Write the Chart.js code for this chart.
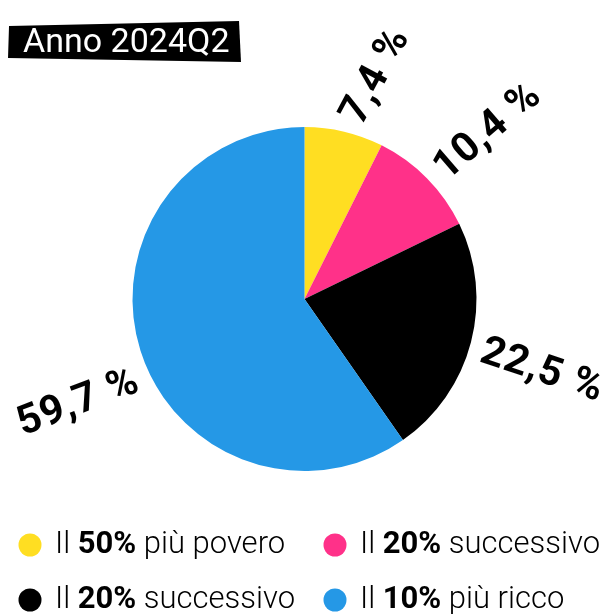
<!DOCTYPE html>
<html>
<head>
<meta charset="utf-8">
<script src="https://cdn.jsdelivr.net/npm/chart.js@4"></script>
<style>
    html, body { margin: 0; padding: 0; background: #ffffff; }
    canvas { display: block; }
</style>
</head>
<body>
<canvas id="chart" width="608" height="616"></canvas>
<script>
// data
const titleText = "Anno 2024Q2";
const shares = [7.4, 10.4, 22.5, 59.7];
const legendPrefix = ["Il", "Il", "Il", "Il"];
const legendBold = ["50%", "20%", "20%", "10%"];
const legendRest = ["più povero", "successivo", "successivo", "più ricco"];
const sliceColors = ["#ffde22", "#ff3189", "#000000", "#2598e6"];

const fontName = "Roboto";
const deg = Math.PI / 180;

// title box + rotated value labels + custom legend
const decorPlugin = {
    id: "decor",
    afterDraw(chart) {
        const c = chart.ctx;
        const meta = chart.getDatasetMeta(0);

        // title in black, slightly skewed box
        c.save();
        c.fillStyle = "#000000";
        c.beginPath();
        c.moveTo(9, 26);
        c.lineTo(239, 21);
        c.lineTo(241, 62);
        c.lineTo(8, 58);
        c.closePath();
        c.fill();
        c.fillStyle = "#ffffff";
        c.font = `400 34px ${fontName}`;
        c.textBaseline = "middle";
        c.textAlign = "left";
        c.fillText(titleText, 23, 43);
        c.restore();

        // value labels, along the radius
        meta.data.forEach((arc, i) => {
            const p = arc.getProps(["x", "y", "startAngle", "endAngle", "outerRadius"], true);
            const mid = (p.startAngle + p.endAngle) / 2;
            const r = p.outerRadius + 13;
            const ax = p.x + Math.cos(mid) * r;
            const ay = p.y + Math.sin(mid) * r;
            let rot, align, dy;
            if (Math.cos(mid) < 0) {
                rot = mid - Math.PI - 3.5 * deg;
                align = "right";
                dy = 28;
            } else {
                rot = mid + 4 * deg;
                align = "left";
                dy = 6;
            }
            while (rot > Math.PI) rot -= 2 * Math.PI;
            while (rot < -Math.PI) rot += 2 * Math.PI;
            // keep near-vertical labels readable
            rot = Math.max(-62 * deg, Math.min(62 * deg, rot));

            c.save();
            c.translate(ax, ay);
            c.rotate(rot);
            c.fillStyle = "#000000";
            c.font = `700 41px ${fontName}`;
            c.letterSpacing = "1px";
            c.textAlign = align;
            c.textBaseline = "middle";
            c.fillText(shares[i].toFixed(1).replace(".", ",") + " %", 0, dy);
            c.restore();
        });

        // legend, two columns
        const colX = [30, 335];
        const rowY = [545, 600];
        shares.forEach((v, i) => {
            const x = colX[i % 2];
            const y = rowY[Math.floor(i / 2)];
            c.save();
            c.fillStyle = sliceColors[i];
            c.beginPath();
            c.arc(x, y, 11.5, 0, Math.PI * 2);
            c.fill();
            c.fillStyle = "#000000";
            c.textBaseline = "middle";
            c.textAlign = "left";
            let tx = x + 25;
            c.font = `300 31px ${fontName}`;
            c.fillText(legendPrefix[i] + " ", tx, y);
            tx += c.measureText(legendPrefix[i] + " ").width;
            c.font = `700 31px ${fontName}`;
            c.fillText(legendBold[i], tx, y);
            tx += c.measureText(legendBold[i]).width;
            c.font = `300 31px ${fontName}`;
            c.fillText(" " + legendRest[i], tx, y);
            c.restore();
        });
    }
};

const ctx = document.getElementById("chart");

const graph = new Chart(ctx, {
    type: "pie",
    data: {
        labels: legendRest,
        datasets: [{
            data: shares,
            backgroundColor: sliceColors,
            borderWidth: 0,
            hoverOffset: 0
        }]
    },
    options: {
        responsive: false,
        animation: false,
        layout: {
            padding: { left: 132, right: 131, top: 127, bottom: 145 }
        },
        plugins: {
            legend: { display: false },
            title: { display: false },
            tooltip: { enabled: false }
        }
    },
    plugins: [decorPlugin]
});
</script>
</body>
</html>
